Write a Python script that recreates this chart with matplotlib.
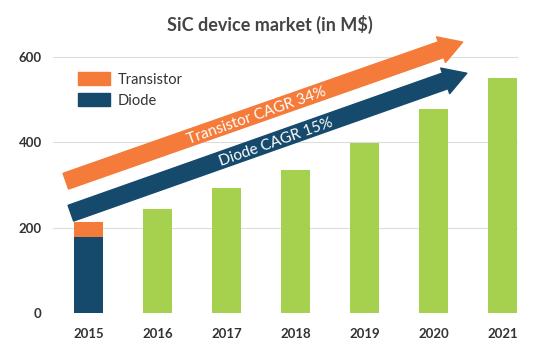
import matplotlib.pyplot as plt
from matplotlib.patches import Patch

plt.rcParams['font.family'] = ['Lato', 'DejaVu Sans']

years = ['2015', '2016', '2017', '2018', '2019', '2020', '2021']
market = [213, 244, 294, 335, 399, 478, 550]   # total market, M$
diode_2015 = 179
transistor_2015 = 34
yticks = [0, 200, 400, 600]

# CAGR arrows (x = category index, y = M$)
transistor_arrow = [(-0.333, 309), (5.42, 635)]
diode_arrow = [(-0.26, 234), (5.48, 562)]

orange = '#F47B3A'
blue = '#164A6C'
green = '#A6D14F'
dark = '#333333'

fig = plt.figure(figsize=(5.4, 3.64), dpi=100)
ax = fig.add_axes([0.098, 0.140, 0.861, 0.762])

x = list(range(len(years)))
w = 0.42
ax.bar(x[1:], market[1:], width=w, color=green, zorder=2)
ax.bar(x[0], diode_2015, width=w, color=blue, zorder=2)
ax.bar(x[0], transistor_2015, bottom=diode_2015, width=w, color=orange, zorder=2)

ax.set_xlim(-0.52, 6.22)
ax.set_ylim(0, 650)
ax.set_yticks(yticks)
ax.set_xticks(x)
ax.set_xticklabels(years)
ax.grid(axis='y', color='#DDDDDD', linewidth=0.8, zorder=0)
for s in ax.spines.values():
    s.set_visible(False)
ax.tick_params(axis='both', length=0, labelsize=9.5, colors=dark)
ax.tick_params(axis='x', pad=11)
ax.tick_params(axis='y', pad=8)
for lbl in ax.get_xticklabels() + ax.get_yticklabels():
    lbl.set_fontweight('bold')

style = 'simple,head_length=1.65,head_width=1.95,tail_width=1.2'
for (tail, tip), col in [(transistor_arrow, orange), (diode_arrow, blue)]:
    ax.annotate('', xy=tip, xytext=tail, annotation_clip=False,
                arrowprops=dict(arrowstyle=style, color=col, shrinkA=0, shrinkB=0,
                                mutation_scale=10), zorder=3)

ax.text(2.43, 462, 'Transistor CAGR 34%', color='white', fontsize=11,
        rotation=19.5, rotation_mode='anchor', ha='center', va='center', zorder=4)
ax.text(2.71, 400, 'Diode CAGR 15%', color='white', fontsize=11,
        rotation=19.5, rotation_mode='anchor', ha='center', va='center', zorder=4)

fig.text(0.5, 0.934, 'SiC device market (in M$)', ha='center', va='center',
         fontsize=13, fontweight='bold', color='#444444')

handles = [Patch(color=orange, label='Transistor'), Patch(color=blue, label='Diode')]
ax.legend(handles=handles, loc='upper left', bbox_to_anchor=(0.025, 0.915),
          frameon=False, fontsize=10.5, handlelength=2.2, handleheight=0.96,
          labelspacing=0.45, handletextpad=0.55, labelcolor=dark)

fig.savefig('out.png', dpi=100)
